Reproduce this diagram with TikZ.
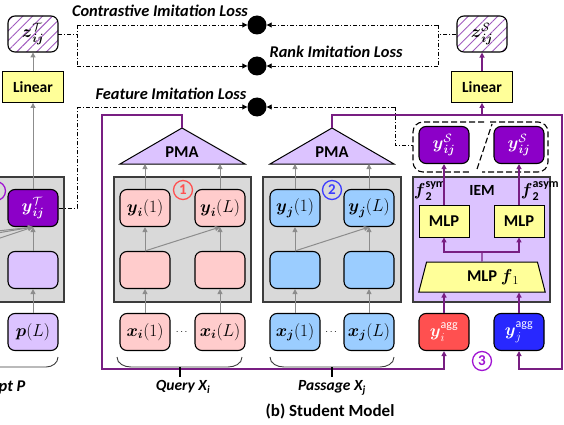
\documentclass[tikz,border=0pt]{standalone}
\usepackage{amsmath}
\usepackage{fontspec}
\setmainfont{Carlito}
\usetikzlibrary{arrows.meta,shapes.geometric,patterns.meta,calc}
\definecolor{grayc}{RGB}{217,217,217}
\definecolor{grayline}{RGB}{60,60,60}
\definecolor{arrgray}{RGB}{140,140,140}
\definecolor{pinkc}{RGB}{255,204,204}
\definecolor{bluec}{RGB}{155,205,255}
\definecolor{lpurple}{RGB}{220,195,255}
\definecolor{dpurple}{RGB}{140,0,200}
\definecolor{yellowc}{RGB}{255,255,153}
\definecolor{redc}{RGB}{255,80,80}
\definecolor{dbluec}{RGB}{40,40,255}
\definecolor{purpline}{RGB}{120,30,130}
\definecolor{hatchc}{RGB}{160,90,190}
\definecolor{numred}{RGB}{255,80,80}
\definecolor{numblue}{RGB}{60,60,255}
\definecolor{numpurp}{RGB}{160,20,210}
\begin{document}
\begin{tikzpicture}[x=1pt,y=-1pt,font=\fontsize{16}{18}\selectfont,
 rbox/.style={draw=black, line width=1.1pt, rounded corners=7pt, minimum width=50pt, minimum height=37pt, inner sep=0pt},
 lin/.style={draw=black, line width=0.8pt, fill=yellowc, minimum width=61pt, minimum height=31pt, inner sep=0pt, font=\fontsize{15.5}{18}\selectfont\bfseries},
 mlp/.style={draw=black, line width=0.8pt, fill=yellowc, minimum width=50pt, minimum height=32pt, inner sep=0pt, font=\fontsize{16.5}{18}\selectfont\bfseries},
 graybg/.style={draw=grayline, line width=1.2pt, fill=grayc},
 garr/.style={draw=arrgray, line width=1pt, -{Triangle[length=5pt,width=5pt]}},
 parr/.style={draw=purpline, line width=1.2pt, -{Triangle[length=5pt,width=5pt]}},
 pline/.style={draw=purpline, line width=1.2pt},
 ddot/.style={draw=black, line width=0.9pt, dash pattern=on 4pt off 2pt on 1pt off 2pt},
 ddarr/.style={ddot, -{Triangle[length=5pt,width=5pt]}},
 lossdot/.style={circle, fill=black, minimum size=19pt, inner sep=0pt},
 losslbl/.style={font=\fontsize{16.4}{18}\selectfont\bfseries\itshape},
 numc/.style={circle, draw=#1, text=#1, line width=1.3pt, minimum size=19pt, inner sep=0pt, font=\fontsize{15}{15}\selectfont\bfseries},
 grp/.style={draw=black, line width=1.1pt, dash pattern=on 6pt off 3pt, rounded corners=10pt},
 bracel/.style={draw=grayline, line width=0.9pt},
 tick/.style={draw=black, line width=1.2pt},
 mth/.style={font=\fontsize{17.28}{19}\selectfont}
]
\useasboundingbox (0,0) rectangle (564,425);

% ---------------- gray / purple background boxes
\draw[graybg] (-20,177) rectangle (64,302);
\draw[graybg] (114,177) rectangle (251,302);
\draw[graybg] (263,177) rectangle (401,302);
\draw[draw=grayline, line width=1.2pt, fill=lpurple] (413,177) rectangle (550,302);

% ---------------- loss circles and labels
\node[lossdot] (c1) at (257,25) {};
\node[lossdot] (c2) at (257,66) {};
\node[lossdot] (c3) at (257,107) {};
\node[losslbl] (l1) at (160,11) {Contrastive Imitation Loss};
\node[losslbl] (l2) at (336,52) {Rank Imitation Loss};
\node[losslbl] (l3) at (171,94) {Feature Imitation Loss};

% ---------------- teacher (left)
\node[rbox, pattern={Lines[angle=45,distance=7pt,line width=0.9pt]}, pattern color=hatchc, minimum height=36pt, mth] (zT) at (33,34) {$\boldsymbol{z}^{\mathcal{T}}_{\boldsymbol{ij}}$};
\node[lin] (linT) at (33,87) {Linear};
\node[rbox, fill=dpurple, text=white, mth] (yT) at (33,208) {$\boldsymbol{y}^{\mathcal{T}}_{\boldsymbol{ij}}$};
\node[rbox, fill=lpurple] (hT) at (33,270) {};
\node[rbox, fill=lpurple, mth] (pL) at (33,332) {$\boldsymbol{p}(L)$};
\node[font=\bfseries] (dotT) at (-4.5,332) {$\cdots$};
\node[numc=numpurp] (n0) at (-4,191) {};
\coordinate (sT1) at (-42,252);
\coordinate (sT2) at (-117,252);
\coordinate (sT3) at (-192,252);
\draw[garr] (sT1) -- (yT.south);
\draw[garr] (sT2) -- (yT.south);
\draw[garr] (sT3) -- (yT.south);
\draw[garr] (pL.north) -- (hT.south);
\draw[garr] (hT.north) -- (yT.south);
\draw[garr] (yT.north) -- (linT.south);
\draw[garr] (linT.north) -- (zT.south);
\draw[bracel] (-60,367) -- (46,367) to[out=0,in=-90] (58,357);
\node[losslbl, anchor=east] (lP) at (29,387) {Prompt P};

% ---------------- left dash-dot connectors
\coordinate (lA) at (77,25);
\coordinate (lB) at (77,66);
\coordinate (lC) at (77,107);
\draw[ddot] (zT.east) -- (zT.east -| lA);
\draw[ddot] (lA) -- (lB);
\draw[ddarr] (lA) -- (c1.west);
\draw[ddarr] (lB) -- (c2.west);
\draw[ddot] (yT.east) -| (lC);
\draw[ddarr] (lC) -- (c3.west);

% ---------------- query column
\coordinate (p1a) at (182,128);
\coordinate (p1b) at (182,164);
\draw[draw=black, line width=1pt, fill=lpurple] (120,164) -- (p1a) -- (245,164) -- cycle;
\node[font=\fontsize{16.5}{18}\selectfont\bfseries] (pma1) at (182,152) {PMA};
\node[rbox, fill=pinkc, mth] (yi1) at (145,208) {$\boldsymbol{y}_{\boldsymbol{i}}(1)$};
\node[rbox, fill=pinkc, mth] (yiL) at (220,208) {$\boldsymbol{y}_{\boldsymbol{i}}(L)$};
\node[rbox, fill=pinkc] (hi1) at (145,270) {};
\node[rbox, fill=pinkc] (hiL) at (220,270) {};
\node[rbox, fill=pinkc, mth] (xi1) at (145,332) {$\boldsymbol{x}_{\boldsymbol{i}}(1)$};
\node[rbox, fill=pinkc, mth] (xiL) at (220,332) {$\boldsymbol{x}_{\boldsymbol{i}}(L)$};
\node[font=\bfseries] (doti) at (182.5,332) {$\cdots$};
\node[numc=numred] (n1) at (183,190) {1};
\draw[garr] (xi1.north) -- (hi1.south);
\draw[garr] (xiL.north) -- (hiL.south);
\draw[garr] (hi1.north) -- (yi1.south);
\draw[garr] (hiL.north) -- (yiL.south);
\draw[garr] (hi1.north) -- (yiL.south);
\draw[garr] (yi1.north) -- (yi1.north |- p1b);
\draw[garr] (yiL.north) -- (yiL.north |- p1b);
\draw[bracel] (117,357) to[out=-90,in=180] (131,367) -- (228,367) to[out=0,in=-90] (242,357);
\coordinate (tq1) at (180,367);
\coordinate (tq2) at (180,377);

% ---------------- passage column
\coordinate (p2a) at (332,128);
\coordinate (p2b) at (332,164);
\draw[draw=black, line width=1pt, fill=lpurple] (270,164) -- (p2a) -- (394,164) -- cycle;
\node[font=\fontsize{16.5}{18}\selectfont\bfseries] (pma2) at (332,152) {PMA};
\node[rbox, fill=bluec, mth] (yj1) at (295,208) {$\boldsymbol{y}_{\boldsymbol{j}}(1)$};
\node[rbox, fill=bluec, mth] (yjL) at (369,208) {$\boldsymbol{y}_{\boldsymbol{j}}(L)$};
\node[rbox, fill=bluec] (hj1) at (295,270) {};
\node[rbox, fill=bluec] (hjL) at (369,270) {};
\node[rbox, fill=bluec, mth] (xj1) at (295,332) {$\boldsymbol{x}_{\boldsymbol{j}}(1)$};
\node[rbox, fill=bluec, mth] (xjL) at (369,332) {$\boldsymbol{x}_{\boldsymbol{j}}(L)$};
\node[font=\bfseries] (dotj) at (332,332) {$\cdots$};
\node[numc=numblue] (n2) at (332,190) {2};
\draw[garr] (xj1.north) -- (hj1.south);
\draw[garr] (xjL.north) -- (hjL.south);
\draw[garr] (hj1.north) -- (yj1.south);
\draw[garr] (hjL.north) -- (yjL.south);
\draw[garr] (hj1.north) -- (yjL.south);
\draw[garr] (yj1.north) -- (yj1.north |- p2b);
\draw[garr] (yjL.north) -- (yjL.north |- p2b);
\draw[bracel] (270,357) to[out=-90,in=180] (284,367) -- (380,367) to[out=0,in=-90] (394,357);
\coordinate (tp1) at (332,367);
\coordinate (tp2) at (332,377);

% ---------------- IEM (right)
\node[lin] (linS) at (482,87) {Linear};
\node[rbox, pattern={Lines[angle=45,distance=7pt,line width=0.9pt]}, pattern color=hatchc, minimum height=36pt, mth] (zS) at (482,34) {$\boldsymbol{z}^{\mathcal{S}}_{\boldsymbol{ij}}$};
\node[rbox, fill=dpurple, text=white, mth] (yS1) at (444,145) {$\boldsymbol{y}^{\mathcal{S}}_{\boldsymbol{ij}}$};
\node[rbox, fill=dpurple, text=white, mth] (yS2) at (519,145) {$\boldsymbol{y}^{\mathcal{S}}_{\boldsymbol{ij}}$};
\draw[grp] (484,122) -- (413,122) -- (413,172) -- (471,172);
\draw[grp] (490,122) -- (548,122) -- (548,172) -- (482,172);
\draw[grp] (477,169) -- (492,124);
\coordinate (grpW) at (413,145);
\node[font=\fontsize{15.5}{18}\selectfont\bfseries] (iem) at (482,190) {IEM};
\node[mth] (f2s) at (430,191) {$\boldsymbol{f}_{\mathbf{2}}^{\mathbf{sym}}$};
\node[mth] (f2a) at (540,191) {$\boldsymbol{f}_{\mathbf{2}}^{\mathbf{asym}}$};
\node[mlp] (mlp1) at (444,221) {MLP};
\node[mlp] (mlp2) at (519,221) {MLP};
\node[trapezium, trapezium left angle=72, trapezium right angle=72, trapezium stretches=true, minimum width=127pt, minimum height=30pt, draw=black, line width=1pt, fill=yellowc, inner sep=0pt, font=\fontsize{16.5}{18}\selectfont\bfseries] (f1) at (482,277) {\hspace*{22pt}MLP $\boldsymbol{f}_{1}$};
\node[rbox, fill=redc, text=white, mth] (yai) at (444,332) {$\boldsymbol{y}_{i}^{\mathrm{agg}}$};
\node[rbox, fill=dbluec, text=white, mth] (yaj) at (519,332) {$\boldsymbol{y}_{j}^{\mathrm{agg}}$};
\node[numc=numpurp] (n3) at (482,361) {3};
\coordinate (fb) at (482,252);
\draw[pline] (f1.north) -- (fb);
\draw[parr] (fb) -| (mlp1.south);
\draw[parr] (fb) -| (mlp2.south);
\draw[parr] (mlp1.north) -- (yS1.south);
\draw[parr] (mlp2.north) -- (yS2.south);
\draw[parr] (yai.north) -- (yai.north |- f1.south);
\draw[parr] (yaj.north) -- (yaj.north |- f1.south);
\draw[parr] (linS.north) -- (zS.south);

% ---------------- purple frame lines
\coordinate (tl) at (102,115);
\coordinate (bl) at (102,369);
\coordinate (tr) at (562,115);
\coordinate (br) at (562,369);
\draw[parr] (p1a) |- (tl) -- (bl) -| (yai.south);
\draw[parr] (p2a) |- (tr) -- (br) -| (yaj.south);
\draw[parr] (linS.south |- tr) -- (linS.south);

% ---------------- ticks and labels under braces
\draw[tick] (tq1) -- (tq2);
\draw[tick] (tp1) -- (tp2);
\node[losslbl, font=\fontsize{15.5}{18}\selectfont\bfseries\itshape] (lq) at (183,387) {Query X\textsubscript{i}};
\node[losslbl, font=\fontsize{15.5}{18}\selectfont\bfseries\itshape] (lpass) at (332,388) {Passage X\textsubscript{j}};
\node[font=\fontsize{17}{19}\selectfont\bfseries] (cap) at (330,411) {(b) Student Model};

% ---------------- right dash-dot connectors
\coordinate (rA) at (438,25);
\coordinate (rB) at (438,66);
\coordinate (rC) at (395,107);
\draw[ddarr] (rA) -- (c1.east);
\draw[ddot] (rA) -- (rB);
\draw[ddarr] (rB) -- (c2.east);
\draw[ddot] (zS.west) -- (zS.west -| rA);
\draw[ddarr] (rC) -- (c3.east);
\draw[ddot] (rC) |- (grpW);
\end{tikzpicture}
\end{document}
